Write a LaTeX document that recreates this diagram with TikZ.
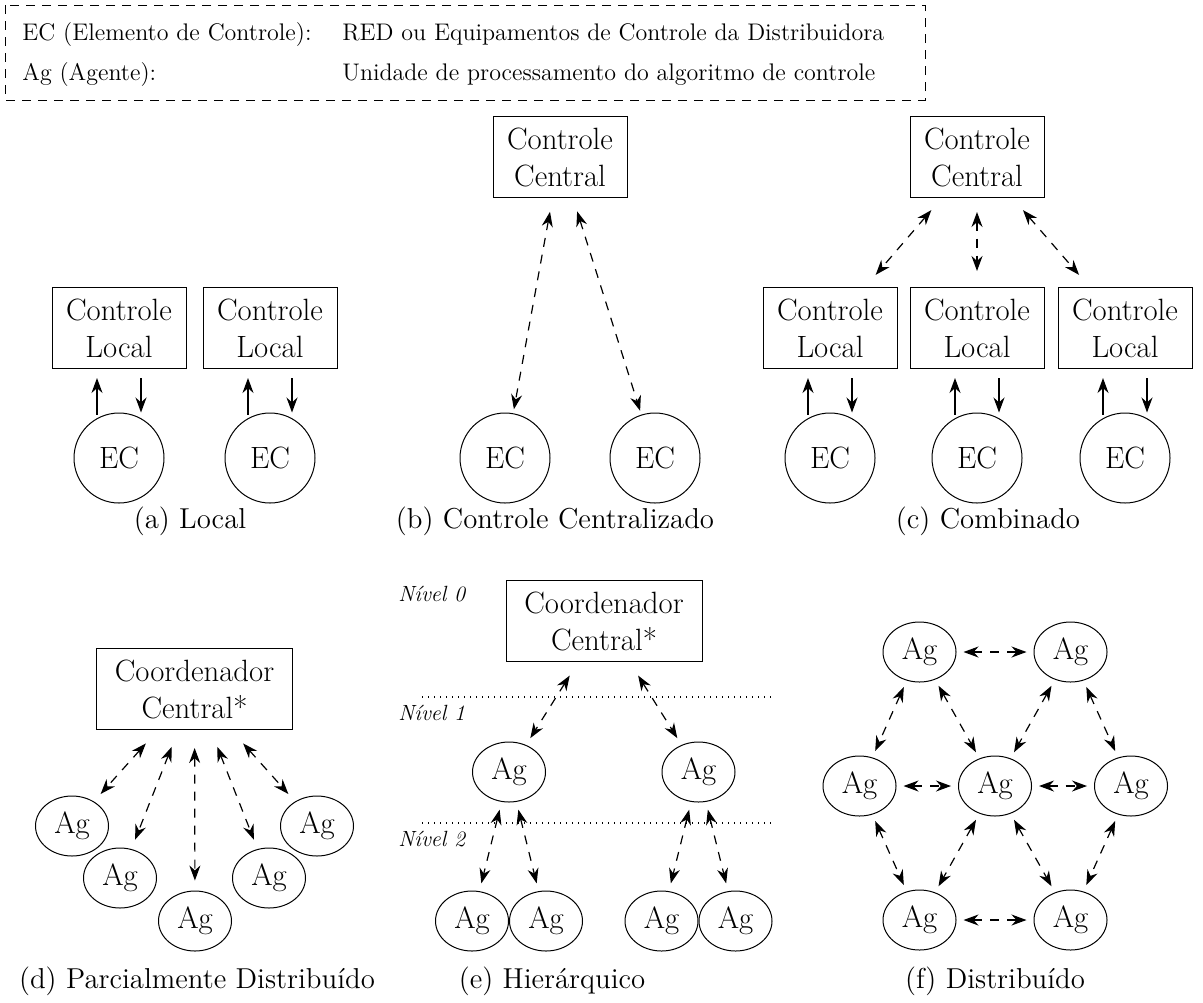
\documentclass[tikz,border=0pt]{standalone}
\usetikzlibrary{arrows.meta,shapes.geometric}
\newcommand{\nfont}{\fontsize{15.4}{18.5}\selectfont}
\newcommand{\cfont}{\fontsize{12}{14.4}\selectfont}
\newcommand{\capfont}{\fontsize{14.4}{17}\selectfont}
\begin{document}
\begin{tikzpicture}[x=0.5pt,y=-0.5pt,
 cbox/.style={draw, line width=0.5pt, align=center, font=\nfont, inner xsep=4.5pt, minimum height=40.5pt, minimum width=67pt},
 wbox/.style={cbox, minimum width=98pt},
 ecn/.style={draw, circle, line width=0.5pt, minimum size=45pt, inner sep=0pt, font=\nfont},
 agn/.style={draw, ellipse, line width=0.5pt, minimum width=36.5pt, minimum height=30pt, inner sep=0pt, font=\nfont},
 captxt/.style={font=\capfont, anchor=base},
 lvl/.style={font=\fontsize{11}{13}\selectfont\itshape, anchor=base west, inner sep=0pt},
 leg/.style={font=\cfont, anchor=base west, inner sep=0pt},
 darr/.style={line width=0.6pt, dash pattern=on 4.5pt off 4pt, {Stealth[length=7.5pt,width=5.5pt]}-{Stealth[length=7.5pt,width=5.5pt]}},
 sarr/.style={line width=0.6pt, -{Stealth[length=7.5pt,width=5.5pt]}},
 lvline/.style={line width=0.6pt, dash pattern=on 0.6pt off 2.4pt}
]
\useasboundingbox (0,0) rectangle (1203,1002);

% legend
\draw[line width=0.5pt, dash pattern=on 4.5pt off 3.5pt] (5,5) rectangle (925,100);
\node[leg] (l1a) at (22,40) {EC (Elemento de Controle):};
\node[leg] (l1b) at (342,40) {RED ou Equipamentos de Controle da Distribuidora};
\node[leg] (l2a) at (22,80) {Ag (Agente):};
\node[leg] (l2b) at (342,80) {Unidade de processamento do algoritmo de controle};

% (a)
\node[cbox] (cla) at (119,328) {Controle\\Local};
\node[cbox] (clb) at (270,328) {Controle\\Local};
\node[ecn] (eca) at (119,458) {EC};
\node[ecn] (ecb) at (270,458) {EC};
\draw[sarr] ([shift={(-11pt,-1pt)}]eca.north) -- ([shift={(-11pt,-4.5pt)}]cla.south);
\draw[sarr] ([shift={(11pt,-4.5pt)}]cla.south) -- ([shift={(11pt,0pt)}]eca.north);
\draw[sarr] ([shift={(-11pt,-1pt)}]ecb.north) -- ([shift={(-11pt,-4.5pt)}]clb.south);
\draw[sarr] ([shift={(11pt,-4.5pt)}]clb.south) -- ([shift={(11pt,0pt)}]ecb.north);
\node[captxt] (capa) at (190,528) {(a) Local};

% (b)
\node[cbox] (ccb) at (560,157) {Controle\\Central};
\node[ecn] (ecc) at (505,458) {EC};
\node[ecn] (ecd) at (655,458) {EC};
\draw[darr, shorten <=7pt, shorten >=2pt] (ccb) -- (ecc);
\draw[darr, shorten <=7pt, shorten >=2pt] (ccb) -- (ecd);
\node[captxt] (capb) at (555,528) {(b) Controle Centralizado};

% (c)
\node[cbox] (ccc) at (977,157) {Controle\\Central};
\node[cbox] (clc) at (830,328) {Controle\\Local};
\node[cbox] (cld) at (977,328) {Controle\\Local};
\node[cbox] (cle) at (1125,328) {Controle\\Local};
\node[ecn] (ece) at (830,458) {EC};
\node[ecn] (ecf) at (977,458) {EC};
\node[ecn] (ecg) at (1125,458) {EC};
\draw[darr, shorten <=8pt, shorten >=8pt] (ccc) -- (clc);
\draw[darr, shorten <=7pt, shorten >=8pt] (ccc) -- (cld);
\draw[darr, shorten <=8pt, shorten >=8pt] (ccc) -- (cle);
\foreach \l/\e in {clc/ece, cld/ecf, cle/ecg}{
  \draw[sarr] ([shift={(-11pt,-1pt)}]\e.north) -- ([shift={(-11pt,-4.5pt)}]\l.south);
  \draw[sarr] ([shift={(11pt,-4.5pt)}]\l.south) -- ([shift={(11pt,0pt)}]\e.north);
}
\node[captxt] (capc) at (988,528) {(c) Combinado};

% (d)
\node[wbox] (cd) at (194.5,689) {Coordenador\\Central*};
\node[agn] (agd1) at (72,826) {Ag};
\node[agn] (agd2) at (120,878) {Ag};
\node[agn] (agd3) at (195,921) {Ag};
\node[agn] (agd4) at (269,878) {Ag};
\node[agn] (agd5) at (317,826) {Ag};
\foreach \a in {agd1,agd2,agd3,agd4,agd5}{
  \draw[darr, shorten <=9pt, shorten >=5pt] (cd) -- (\a);
}
\node[captxt] (capd) at (197,988) {(d) Parcialmente Distribuído};

% (e)
\node[wbox] (ce) at (604,621) {Coordenador\\Central*};
\node[lvl] (nv0) at (398,601) {Nível 0};
\node[lvl] (nv1) at (398,720) {Nível 1};
\node[lvl] (nv2) at (398,846) {Nível 2};
\coordinate (d1a) at (422,697); \coordinate (d1b) at (775,697);
\coordinate (d2a) at (422,823); \coordinate (d2b) at (775,823);
\draw[lvline] (d1a) -- (d1b);
\draw[lvline] (d2a) -- (d2b);
\node[agn] (ae1) at (509,772) {Ag};
\node[agn] (ae2) at (698.5,772) {Ag};
\node[agn] (ae3) at (472,921) {Ag};
\node[agn] (ae4) at (546,921) {Ag};
\node[agn] (ae5) at (661.5,921) {Ag};
\node[agn] (ae6) at (735.5,921) {Ag};
\draw[darr, shorten <=8pt, shorten >=4pt] (ce) -- (ae1);
\draw[darr, shorten <=8pt, shorten >=4pt] (ce) -- (ae2);
\draw[darr, shorten <=4pt, shorten >=4pt] (ae1) -- (ae3);
\draw[darr, shorten <=4pt, shorten >=4pt] (ae1) -- (ae4);
\draw[darr, shorten <=4pt, shorten >=4pt] (ae2) -- (ae5);
\draw[darr, shorten <=4pt, shorten >=4pt] (ae2) -- (ae6);
\node[captxt] (cape) at (552,988) {(e) Hierárquico};

% (f)
\node[agn] (f1) at (919.5,652) {Ag};
\node[agn] (f2) at (1070.5,652) {Ag};
\node[agn] (f3) at (859.5,786) {Ag};
\node[agn] (f4) at (995,786) {Ag};
\node[agn] (f5) at (1131,786) {Ag};
\node[agn] (f6) at (919.5,920) {Ag};
\node[agn] (f7) at (1070.5,920) {Ag};
\foreach \p/\q in {f1/f2,f1/f3,f1/f4,f2/f4,f2/f5,f3/f4,f4/f5,f3/f6,f4/f6,f4/f7,f5/f7,f6/f7}{
  \draw[darr, shorten <=3.5pt, shorten >=3.5pt] (\p) -- (\q);
}
\node[captxt] (capf) at (995,988) {(f) Distribuído};
\end{tikzpicture}
\end{document}
